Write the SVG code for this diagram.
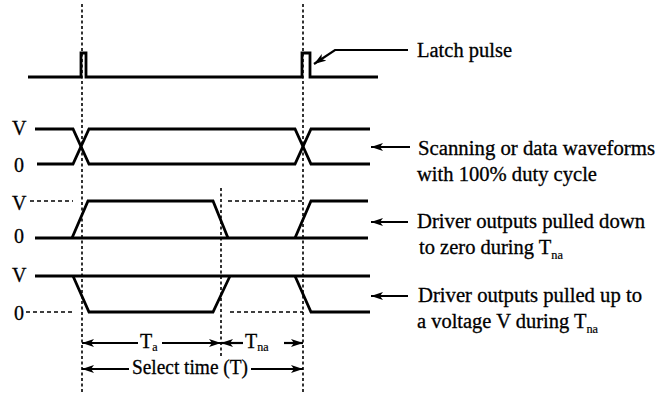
<svg xmlns="http://www.w3.org/2000/svg" width="668" height="394" viewBox="0 0 668 394">
<defs>
<marker id="ah" viewBox="0 0 12 8" refX="12" refY="4" markerWidth="12" markerHeight="8" markerUnits="userSpaceOnUse" orient="auto-start-reverse">
<path d="M0,0 L12,4 L0,8 L3,4 Z" fill="#000"/>
</marker>
</defs>
<style>
text{font-family:"Liberation Serif","Times New Roman",serif;fill:#000;font-size:20px;stroke:#000;stroke-width:0.3}
.w{fill:none;stroke:#000;stroke-width:2.8;stroke-linejoin:miter}
.g{fill:none;stroke:#000;stroke-width:1.6;stroke-dasharray:3,2.5}
.d{fill:none;stroke:#000;stroke-width:1.3;stroke-dasharray:4,3}
.a{fill:none;stroke:#000;stroke-width:2.2}
.sub{font-size:12px;stroke-width:0.2}
</style>
<rect width="668" height="394" fill="#fff"/>
<g id="guides">
<line class="g" x1="82" y1="4" x2="82" y2="394"/>
<line class="g" x1="303" y1="4" x2="303" y2="394"/>
<line class="g" x1="221" y1="188" x2="221" y2="356"/>
</g>
<g id="latch">
<path class="w" d="M28,77 H81 V53 H86 V77 H302 V53 H310 V77 H378"/>
</g>
<g id="scan">
<path class="w" d="M35,129 H73 L89,164 H295 L311,129 H370"/>
<path class="w" d="M37,164 H73 L89,129 H295 L311,164 H370"/>
<text x="12" y="135">V</text>
<text x="14" y="172">0</text>
</g>
<g id="pulldown">
<path class="d" d="M30,201 H73 M228,201 H303"/>
<path class="w" d="M35,238 H368"/>
<path class="w" d="M72,238 L88,201 H213 L228,238"/>
<path class="w" d="M295,238 L311,201 H368"/>
<text x="12" y="210">V</text>
<text x="14" y="243">0</text>
</g>
<g id="pullup">
<path class="d" d="M26,312 H73 M230,312 H303"/>
<path class="w" d="M35,276 H370"/>
<path class="w" d="M73,276 L89,312 H213 L230,276"/>
<path class="w" d="M295,276 L311,312 H370"/>
<text x="12" y="282">V</text>
<text x="14" y="320">0</text>
</g>
<g id="connectors">
<path class="a" d="M408,50 H335 L314,64" marker-end="url(#ah)"/>
<line class="a" x1="410" y1="147" x2="371" y2="147" marker-end="url(#ah)"/>
<line class="a" x1="408" y1="222" x2="371" y2="222" marker-end="url(#ah)"/>
<line class="a" x1="408" y1="296" x2="371" y2="296" marker-end="url(#ah)"/>
<line class="a" x1="138" y1="343" x2="82" y2="343" marker-end="url(#ah)"/>
<line class="a" x1="162" y1="343" x2="221" y2="343" marker-end="url(#ah)"/>
<line class="a" x1="243" y1="343" x2="221" y2="343" marker-end="url(#ah)"/>
<line class="a" x1="284" y1="343" x2="303" y2="343" marker-end="url(#ah)"/>
<line class="a" x1="129" y1="369" x2="82" y2="369" marker-end="url(#ah)"/>
<line class="a" x1="251" y1="369" x2="303" y2="369" marker-end="url(#ah)"/>
</g>
<g id="labels">
<text x="417" y="57" textLength="95" lengthAdjust="spacingAndGlyphs">Latch pulse</text>
<text x="418" y="155" textLength="237" lengthAdjust="spacingAndGlyphs">Scanning or data waveforms</text>
<text x="417" y="181" textLength="180" lengthAdjust="spacingAndGlyphs">with 100% duty cycle</text>
<text x="417" y="228" textLength="228" lengthAdjust="spacingAndGlyphs">Driver outputs pulled down</text>
<text x="419" y="254" textLength="144" lengthAdjust="spacingAndGlyphs">to zero during T<tspan class="sub" dy="5">na</tspan></text>
<text x="418" y="302" textLength="224" lengthAdjust="spacingAndGlyphs">Driver outputs pulled up to</text>
<text x="417" y="328" textLength="181" lengthAdjust="spacingAndGlyphs">a voltage V during T<tspan class="sub" dy="5">na</tspan></text>
<text x="140" y="348">T<tspan class="sub" dy="3">a</tspan></text>
<text x="245" y="348">T<tspan class="sub" dy="3">na</tspan></text>
<text x="190" y="374" text-anchor="middle" textLength="116" lengthAdjust="spacingAndGlyphs">Select time (T)</text>
</g>
</svg>
